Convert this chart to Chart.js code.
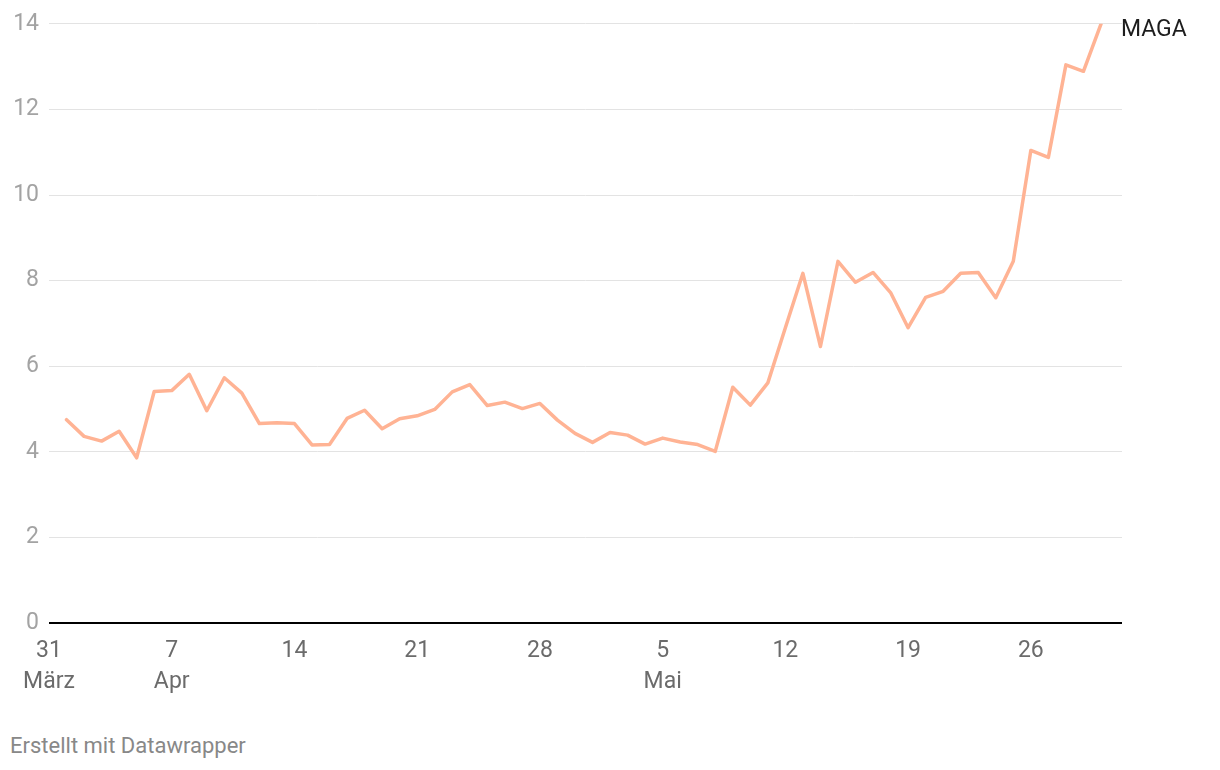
<!DOCTYPE html>
<html lang="de">
<head>
<meta charset="utf-8">
<title>MAGA</title>
<script src="https://cdn.jsdelivr.net/npm/chart.js@4"></script>
<style>
  html, body { margin: 0; padding: 0; background: #fff; }
  body { width: 1220px; height: 770px; position: relative; overflow: hidden; font-family: Roboto, sans-serif; }
  #wrap { position: absolute; left: 0; top: 0; width: 1220px; height: 700px; }
  .credit { position: absolute; left: 10px; top: 732px; font-size: 22px; line-height: 28px; color: #888; }
</style>
</head>
<body>
<div id="wrap"><canvas id="chart" width="1220" height="700"></canvas></div>
<div class="credit">Erstellt mit Datawrapper</div>

<script>
// ===== Data =====
// day 0 = 31. März, one value per day from 1. April to 30. Mai
const seriesName = 'MAGA';
const values = [
  4.75, 4.36, 4.25, 4.48, 3.86, 5.41, 5.43, 5.81, 4.96, 5.73,
  5.37, 4.66, 4.68, 4.66, 4.16, 4.17, 4.78, 4.97, 4.54, 4.77,
  4.84, 4.99, 5.40, 5.57, 5.08, 5.16, 5.01, 5.13, 4.74, 4.43,
  4.22, 4.45, 4.39, 4.18, 4.32, 4.23, 4.17, 4.01, 5.51, 5.09,
  5.61, 6.90, 8.17, 6.46, 8.45, 7.96, 8.19, 7.72, 6.90, 7.61,
  7.75, 8.17, 8.19, 7.60, 8.45, 11.04, 10.88, 13.04, 12.89, 13.99
];
const tickDays = [0, 7, 14, 21, 28, 35, 42, 49, 56];
const tickLabels = [['31', 'März'], ['7', 'Apr'], '14', '21', '28', ['5', 'Mai'], '12', '19', '26'];
const yTicks = [0, 2, 4, 6, 8, 10, 12, 14];

const points = values.map((v, i) => ({ x: i + 1, y: v }));

// ===== Line label plugin =====
const endLabel = {
  id: 'endLabel',
  afterDatasetsDraw(chart) {
    const meta = chart.getDatasetMeta(0);
    const last = meta.data[meta.data.length - 1];
    const ctx = chart.ctx;
    ctx.save();
    ctx.font = '23px Roboto, sans-serif';
    ctx.fillStyle = '#1d1d1d';
    ctx.textBaseline = 'middle';
    ctx.fillText(seriesName, last.x + 20, last.y + 6);
    ctx.restore();
  }
};

new Chart(document.getElementById('chart'), {
  type: 'line',
  data: {
    datasets: [{
      label: seriesName,
      data: points,
      borderColor: '#ffb394',
      borderWidth: 3.5,
      borderJoinStyle: 'round',
      borderCapStyle: 'round',
      pointRadius: 0,
      tension: 0,
      fill: false
    }]
  },
  options: {
    responsive: false,
    animation: false,
    layout: { padding: { top: 23, right: 98, left: 0, bottom: 0 } },
    plugins: { legend: { display: false }, tooltip: { enabled: false } },
    scales: {
      x: {
        type: 'linear',
        min: 0,
        max: 61.2,
        afterBuildTicks: s => { s.ticks = tickDays.map(v => ({ value: v })); },
        afterFit: s => { s.height = 77; },
        grid: { display: false, drawTicks: false },
        border: { display: false },
        ticks: {
          autoSkip: false,
          maxRotation: 0,
          padding: 13,
          color: '#6b6b6b',
          font: { family: 'Roboto', size: 23, lineHeight: 1.33 },
          callback: v => tickLabels[tickDays.indexOf(v)]
        }
      },
      y: {
        min: 0,
        max: 14,
        afterBuildTicks: s => { s.ticks = yTicks.map(v => ({ value: v })); },
        afterFit: s => { s.width = 49; },
        border: { display: false },
        grid: {
          drawTicks: false,
          color: c => c.tick.value === 0 ? '#000' : '#e3e3e3',
          lineWidth: c => c.tick.value === 0 ? 2 : 1
        },
        ticks: {
          padding: 10,
          color: '#a3a3a3',
          font: { family: 'Roboto', size: 23 }
        }
      }
    }
  },
  plugins: [endLabel]
});
</script>
</body>
</html>
